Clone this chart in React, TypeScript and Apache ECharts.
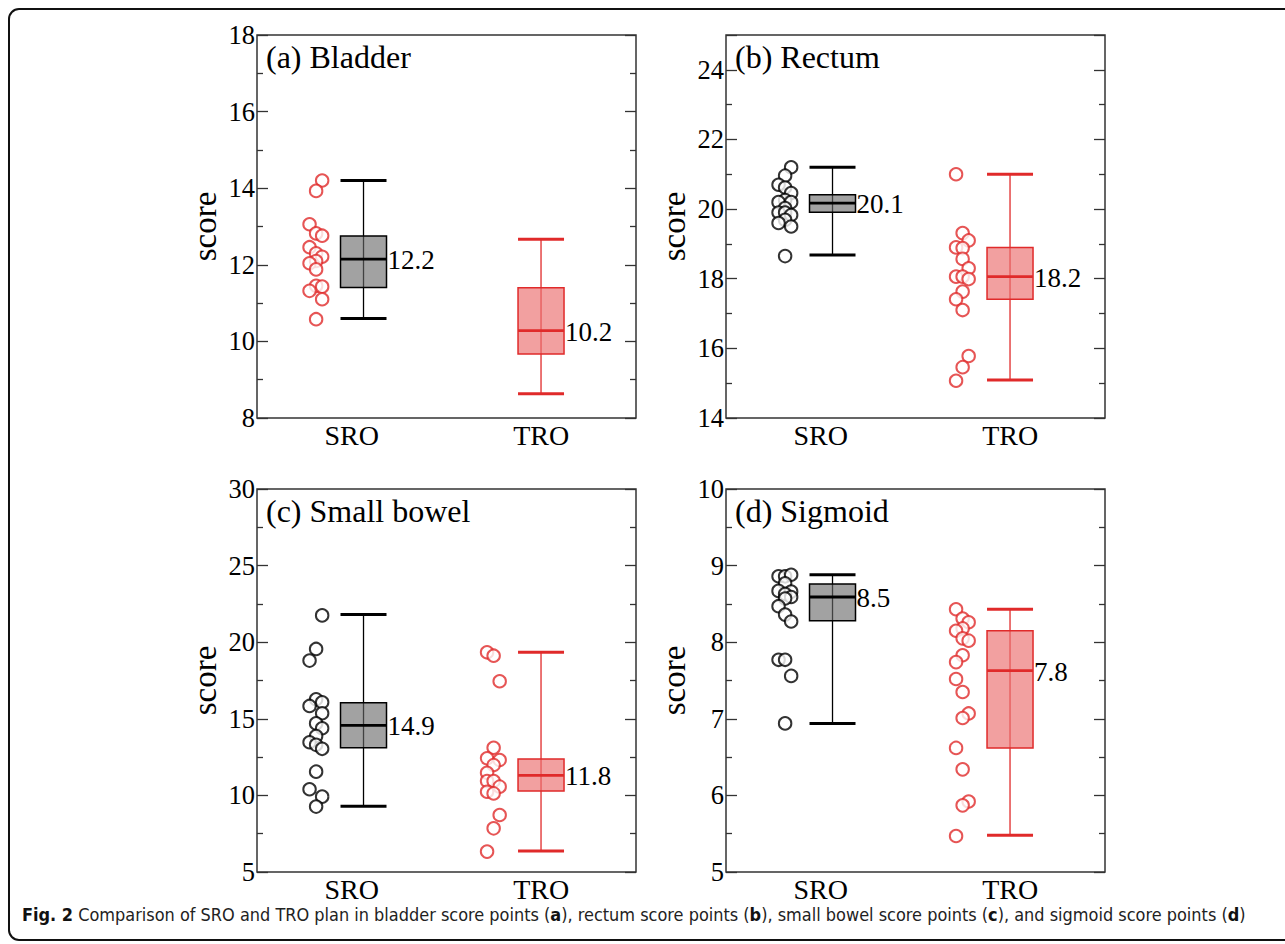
import React, { useEffect, useRef } from "react";
import * as echarts from "echarts";

// ---------- data ----------
const groups = ["SRO", "TRO"];
const panelTitles = ["(a) Bladder", "(b) Rectum", "(c) Small bowel", "(d) Sigmoid"];
const yAxisName = "score";

// y axis ranges [min, max, interval]
const bladderAxis = [8, 18, 2];
const rectumAxis = [14, 25, 2];
const bowelAxis = [5, 30, 5];
const sigmoidAxis = [5, 10, 1];

// box stats [min, Q1, median, Q3, max] for SRO and TRO
const bladderBoxSro = [10.6, 11.41, 12.15, 12.75, 14.2];
const bladderBoxTro = [8.63, 9.67, 10.28, 11.4, 12.67];
const rectumBoxSro = [18.68, 19.91, 20.17, 20.41, 21.2];
const rectumBoxTro = [15.09, 17.41, 18.06, 18.9, 21.0];
const bowelBoxSro = [9.29, 13.11, 14.57, 16.05, 21.8];
const bowelBoxTro = [6.37, 10.29, 11.31, 12.38, 19.34];
const sigmoidBoxSro = [6.94, 8.28, 8.59, 8.76, 8.88];
const sigmoidBoxTro = [5.48, 6.62, 7.63, 8.15, 8.43];

// printed values next to boxes
const bladderLabels = ["12.2", "10.2"];
const rectumLabels = ["20.1", "18.2"];
const bowelLabels = ["14.9", "11.8"];
const sigmoidLabels = ["8.5", "7.8"];

// individual points (values) and jitter column (0,1,2)
const bladderSro = [14.2, 13.93, 13.06, 12.82, 12.76, 12.46, 12.3, 12.21, 12.1, 12.04, 11.88, 11.45, 11.43, 11.32, 11.1, 10.58];
const bladderSroCol = [2, 1, 0, 1, 2, 0, 1, 2, 1, 0, 1, 1, 2, 0, 2, 1];
const bladderTro: number[] = [];
const bladderTroCol: number[] = [];

const rectumSro = [21.2, 20.96, 20.7, 20.62, 20.46, 20.26, 20.2, 20.2, 20.03, 19.9, 19.9, 19.83, 19.69, 19.6, 19.5, 18.65];
const rectumSroCol = [2, 1, 0, 1, 2, 1, 0, 2, 1, 0, 1, 2, 1, 0, 2, 1];
const rectumTro = [21.0, 19.31, 19.1, 18.9, 18.88, 18.57, 18.3, 18.06, 18.06, 17.99, 17.63, 17.41, 17.1, 15.78, 15.46, 15.07];
const rectumTroCol = [0, 1, 2, 0, 1, 1, 2, 0, 1, 2, 1, 0, 1, 2, 1, 0];

const bowelSro = [21.75, 19.56, 18.8, 16.27, 16.08, 15.84, 15.36, 14.7, 14.38, 13.88, 13.47, 13.3, 13.04, 11.55, 10.4, 9.92, 9.27];
const bowelSroCol = [2, 1, 0, 1, 2, 0, 2, 1, 2, 1, 0, 1, 2, 1, 0, 2, 1];
const bowelTro = [19.34, 19.12, 17.45, 13.11, 12.42, 12.31, 11.98, 11.48, 10.94, 10.94, 10.57, 10.24, 10.13, 8.72, 7.85, 6.33];
const bowelTroCol = [0, 1, 2, 1, 0, 2, 1, 0, 0, 1, 2, 0, 1, 2, 1, 0];

const sigmoidSro = [8.86, 8.86, 8.88, 8.77, 8.67, 8.66, 8.63, 8.59, 8.57, 8.47, 8.36, 8.27, 7.77, 7.77, 7.56, 6.94];
const sigmoidSroCol = [0, 1, 2, 1, 0, 2, 1, 2, 1, 0, 1, 2, 0, 1, 2, 1];
const sigmoidTro = [8.43, 8.31, 8.26, 8.18, 8.15, 8.05, 8.02, 7.83, 7.74, 7.52, 7.35, 7.07, 7.01, 6.62, 6.34, 5.92, 5.87, 5.47];
const sigmoidTroCol = [0, 1, 2, 1, 0, 1, 2, 1, 0, 0, 1, 2, 1, 0, 1, 2, 1, 0];

const captionBold = "Fig. 2";
const captionParts = [
  " Comparison of SRO and TRO plan in bladder score points (",
  "a",
  "), rectum score points (",
  "b",
  "), small bowel score points (",
  "c",
  "), and sigmoid score points (",
  "d",
  ")",
];

// ---------- styles ----------
const SERIF = '"Liberation Serif", "Times New Roman", Times, serif';
const SANS = '"DejaVu Sans Condensed", "Liberation Sans Narrow", "Open Sans", sans-serif';
const BLACK = "#000000";
const RED = "#e02a2a";
const BOX_FILL = ["#a2a2a2", "#f2a0a0"];
const BOX_STROKE = [BLACK, RED];
const JITTER = [-0.304, -0.267, -0.233];
const X_MIN = 0.4;
const X_MAX = 2.535;

const gridRects = [
  { left: 257, top: 35 },
  { left: 726, top: 35 },
  { left: 257, top: 489 },
  { left: 726, top: 489 },
];
const GRID_W = 379;
const GRID_H = 383;

const panels = [
  { axis: bladderAxis, boxes: [bladderBoxSro, bladderBoxTro], labels: bladderLabels, sro: bladderSro, sroCol: bladderSroCol, tro: bladderTro, troCol: bladderTroCol, sroColor: RED },
  { axis: rectumAxis, boxes: [rectumBoxSro, rectumBoxTro], labels: rectumLabels, sro: rectumSro, sroCol: rectumSroCol, tro: rectumTro, troCol: rectumTroCol, sroColor: BLACK },
  { axis: bowelAxis, boxes: [bowelBoxSro, bowelBoxTro], labels: bowelLabels, sro: bowelSro, sroCol: bowelSroCol, tro: bowelTro, troCol: bowelTroCol, sroColor: BLACK },
  { axis: sigmoidAxis, boxes: [sigmoidBoxSro, sigmoidBoxTro], labels: sigmoidLabels, sro: sigmoidSro, sroCol: sigmoidSroCol, tro: sigmoidTro, troCol: sigmoidTroCol, sroColor: BLACK },
];

function makeBoxRenderer(labels: string[]) {
  return (params: any, api: any) => {
    const g = params.dataIndex;
    const x = api.value(0);
    const c = (v: number) => api.coord([x, v]);
    const lo = c(api.value(1));
    const q1 = c(api.value(2));
    const med = c(api.value(3));
    const q3 = c(api.value(4));
    const hi = c(api.value(5));
    const cx = lo[0];
    const hw = 23;
    const stroke = BOX_STROKE[g];
    return {
      type: "group",
      children: [
        { type: "line", shape: { x1: cx, y1: hi[1], x2: cx, y2: lo[1] }, style: { stroke, lineWidth: 1.3 } },
        { type: "rect", shape: { x: cx - hw, y: q3[1], width: 2 * hw, height: q1[1] - q3[1] }, style: { fill: BOX_FILL[g], stroke, lineWidth: 1.5 } },
        { type: "line", shape: { x1: cx, y1: q3[1], x2: cx, y2: q1[1] }, style: { stroke, lineWidth: 1.3, opacity: 0.6 } },
        { type: "line", shape: { x1: cx - hw, y1: hi[1], x2: cx + hw, y2: hi[1] }, style: { stroke, lineWidth: 3 } },
        { type: "line", shape: { x1: cx - hw, y1: lo[1], x2: cx + hw, y2: lo[1] }, style: { stroke, lineWidth: 3 } },
        { type: "line", shape: { x1: cx - hw, y1: med[1], x2: cx + hw, y2: med[1] }, style: { stroke, lineWidth: 2.8 } },
        {
          type: "text",
          x: cx + hw + 1,
          y: med[1] + 1,
          style: { text: labels[g], fill: "#000", fontSize: 27, fontFamily: SERIF, align: "left", verticalAlign: "middle" },
        },
      ],
    };
  };
}

function buildOption() {
  const grid: any[] = [];
  const xAxis: any[] = [];
  const yAxis: any[] = [];
  const series: any[] = [];
  const graphic: any[] = [];

  panels.forEach((p, i) => {
    const r = gridRects[i];
    grid.push({
      left: r.left,
      top: r.top,
      width: GRID_W,
      height: GRID_H,
      show: true,
      borderColor: "#333",
      borderWidth: 1.5,
      backgroundColor: "transparent",
    });
    xAxis.push({ type: "value", gridIndex: i, min: X_MIN, max: X_MAX, show: false });
    xAxis.push({
      type: "category",
      gridIndex: i,
      data: groups,
      boundaryGap: true,
      position: "bottom",
      axisLine: { show: false },
      axisTick: { show: false },
      axisLabel: { fontSize: 28, lineHeight: 20, fontFamily: SERIF, color: "#000", margin: 7 },
    });
    const [ymin, ymax, yint] = p.axis;
    const tickCommon = {
      axisLine: { show: false },
      splitLine: { show: false },
      axisTick: { show: true, inside: true, length: 11, lineStyle: { color: "#333", width: 1.3 } },
      minorTick: { show: true, splitNumber: 2, length: 6, lineStyle: { color: "#333", width: 1.3 } },
      minorSplitLine: { show: false },
    };
    yAxis.push({
      type: "value",
      gridIndex: i,
      min: ymin,
      max: ymax,
      interval: yint,
      position: "left",
      name: yAxisName,
      nameLocation: "middle",
      nameGap: 36,
      nameRotate: 90,
      nameTextStyle: { fontSize: 33, fontFamily: SERIF, color: "#000" },
      axisLabel: { fontSize: 26.5, fontFamily: SERIF, color: "#000", margin: 2, showMaxLabel: (ymax - ymin) % yint === 0 },
      ...tickCommon,
    });
    yAxis.push({
      type: "value",
      gridIndex: i,
      min: ymin,
      max: ymax,
      interval: yint,
      position: "right",
      axisLabel: { show: false },
      ...tickCommon,
    });

    series.push({
      type: "custom",
      xAxisIndex: 2 * i,
      yAxisIndex: 2 * i,
      renderItem: makeBoxRenderer(p.labels),
      data: p.boxes.map((b, g) => [g + 1, ...b]),
      z: 2,
    });
    series.push({
      type: "scatter",
      xAxisIndex: 2 * i,
      yAxisIndex: 2 * i,
      symbol: "emptyCircle",
      symbolSize: 12.5,
      itemStyle: { color: p.sroColor, borderWidth: 1.1, borderColor: p.sroColor },
      data: p.sro.map((v, k) => [1 + JITTER[p.sroCol[k]], v]),
      z: 3,
    });
    if (p.tro.length) {
      series.push({
        type: "scatter",
        xAxisIndex: 2 * i,
        yAxisIndex: 2 * i,
        symbol: "emptyCircle",
        symbolSize: 12.5,
        itemStyle: { color: RED, borderWidth: 1.1, borderColor: RED },
        data: p.tro.map((v, k) => [2 + JITTER[p.troCol[k]], v]),
        z: 3,
      });
    }
    graphic.push({
      type: "text",
      x: r.left + 9,
      y: r.top + 22,
      style: { text: panelTitles[i], fontSize: 32, fontFamily: SERIF, fill: "#000", align: "left", verticalAlign: "middle" },
    });
  });

  // outer frame
  graphic.push({
    type: "rect",
    shape: { x: 9, y: 9, width: 1300, height: 931, r: 10 },
    style: { fill: "none", stroke: "#111", lineWidth: 2 },
    silent: true,
  });

  // caption
  const richText =
    "{b|" + captionBold + "}" +
    captionParts.map((s, k) => (k % 2 === 1 ? "{b|" + s + "}" : "{n|" + s + "}")).join("");
  graphic.push({
    type: "text",
    x: 22,
    y: 914,
    style: {
      text: richText,
      fill: "#222",
      align: "left",
      verticalAlign: "middle",
      rich: {
        b: { fontSize: 17.95, lineHeight: 16, fontFamily: SANS, fontWeight: "bold", fill: "#111" },
        n: { fontSize: 17.95, lineHeight: 16, fontFamily: SANS, fill: "#222" },
      },
    },
  });

  return {
    animation: false,
    backgroundColor: "#ffffff",
    grid,
    xAxis,
    yAxis,
    series,
    graphic,
  };
}

export default function App() {
  const ref = useRef<HTMLDivElement>(null);
  useEffect(() => {
    if (!ref.current) return;
    const chart = echarts.init(ref.current, undefined, { renderer: "svg" });
    chart.setOption(buildOption() as any);
    return () => chart.dispose();
  }, []);
  return (
    <div
      ref={ref}
      style={{ position: "fixed", left: 0, top: 0, width: 1285, height: 944 }}
    />
  );
}
